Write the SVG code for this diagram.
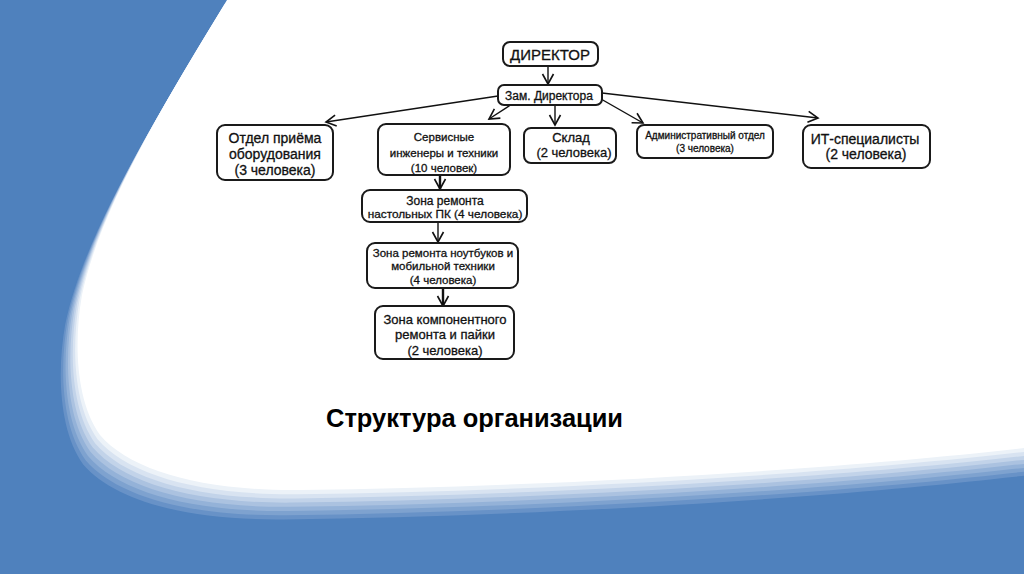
<svg xmlns="http://www.w3.org/2000/svg" width="1024" height="574" viewBox="0 0 1024 574">
<style>
.box{fill:#fff;stroke:#1a1a1a;stroke-width:2}
.t{font-family:"Liberation Sans",Arial,sans-serif;fill:#111;stroke:#111;stroke-width:0.3;text-anchor:middle}
.c{stroke:#111;stroke-width:1.4;fill:none;marker-end:url(#ah)}
.ck{stroke:#111;stroke-width:2.4;fill:none;marker-end:url(#ah)}
</style>
<defs>
<path id="wh" d="M227 0 L1100 0 L1100 441 L1024 448 C850 468 560 487 300 490 C200 491 130 470 100 435 C75 400 74 340 82 295 C100 210 160 110 227 0 Z"/>
<marker id="ah" markerUnits="userSpaceOnUse" markerWidth="14" markerHeight="14" refX="11" refY="6.5" orient="auto" viewBox="0 0 14 14">
<path d="M1 1 L11 6.5 L1 12" fill="none" stroke="#111" stroke-width="1.6"/>
</marker>
</defs>
<g id="background">
<rect width="1024" height="574" fill="#4f81bd"/>
<use href="#wh" transform="translate(-16.8 29.4)" fill="#6892c7"/>
<use href="#wh" transform="translate(-14.4 25.2)" fill="#7ea2cf"/>
<use href="#wh" transform="translate(-12 21)" fill="#94b2d8"/>
<use href="#wh" transform="translate(-9.6 16.8)" fill="#abc2e0"/>
<use href="#wh" transform="translate(-7.2 12.6)" fill="#c2d3e9"/>
<use href="#wh" transform="translate(-4.8 8.4)" fill="#d8e3f1"/>
<use href="#wh" transform="translate(-2.4 4.2)" fill="#ecf2f8"/>
<use href="#wh" fill="#ffffff"/>
</g>
<g id="connectors">
<line class="c" x1="548" y1="66" x2="548" y2="84"/>
<line class="c" x1="498" y1="96" x2="326" y2="122"/>
<line class="c" x1="512" y1="104" x2="489" y2="119"/>
<line class="c" x1="555" y1="105" x2="555" y2="125"/>
<line class="c" x1="601" y1="99" x2="643" y2="123"/>
<line class="c" x1="602" y1="93" x2="818" y2="118"/>
<line class="ck" x1="440" y1="175" x2="440" y2="189"/>
<line class="c" x1="438" y1="222" x2="438" y2="242"/>
<line class="ck" x1="443" y1="288" x2="443" y2="306"/>
</g>
<g id="director">
<rect class="box" x="503" y="42" width="95" height="24" rx="7"/>
<text class="t" x="550" y="59.5" font-size="15">ДИРЕКТОР</text>
</g>
<g id="deputy">
<rect class="box" x="498" y="85" width="104" height="20" rx="6"/>
<text class="t" x="549" y="99.5" font-size="12">Зам. Директора</text>
</g>
<g id="reception">
<rect class="box" x="217" y="125" width="116" height="55" rx="8"/>
<text class="t" x="275" y="143" font-size="14">Отдел приёма</text>
<text class="t" x="275" y="158.5" font-size="14">оборудования</text>
<text class="t" x="275" y="175" font-size="14">(3 человека)</text>
</g>
<g id="service">
<rect class="box" x="378" y="124" width="132" height="51" rx="8"/>
<text class="t" x="444" y="141" font-size="11.5">Сервисные</text>
<text class="t" x="444" y="157" font-size="11.5">инженеры и техники</text>
<text class="t" x="444" y="172" font-size="11.5">(10 человек)</text>
</g>
<g id="warehouse">
<rect class="box" x="524" y="128" width="92" height="35" rx="7"/>
<text class="t" x="571" y="141.5" font-size="13">Склад</text>
<text class="t" x="574" y="157" font-size="13">(2 человека)</text>
</g>
<g id="admin">
<rect class="box" x="637" y="125" width="136" height="33" rx="7"/>
<text class="t" x="705" y="138.5" font-size="10">Административный отдел</text>
<text class="t" x="705" y="151.5" font-size="10">(3 человека)</text>
</g>
<g id="it">
<rect class="box" x="803" y="125" width="127" height="43" rx="8"/>
<text class="t" x="865" y="144" font-size="14">ИТ-специалисты</text>
<text class="t" x="866" y="159" font-size="14">(2 человека)</text>
</g>
<g id="desktop">
<rect class="box" x="362" y="190" width="165" height="32" rx="8"/>
<text class="t" x="445" y="204.5" font-size="12">Зона ремонта</text>
<text class="t" x="445" y="218" font-size="11.8">настольных ПК (4 человека)</text>
</g>
<g id="laptop">
<rect class="box" x="367" y="243" width="151" height="45" rx="8"/>
<text class="t" x="443" y="256.5" font-size="11.5">Зона ремонта ноутбуков и</text>
<text class="t" x="443" y="269.5" font-size="11.5">мобильной техники</text>
<text class="t" x="443" y="283.5" font-size="11.5">(4 человека)</text>
</g>
<g id="component">
<rect class="box" x="375" y="306" width="139" height="53" rx="8"/>
<text class="t" x="445" y="323.5" font-size="13">Зона компонентного</text>
<text class="t" x="445" y="338.5" font-size="13">ремонта и пайки</text>
<text class="t" x="445" y="354.5" font-size="13">(2 человека)</text>
</g>
<text x="326" y="427" font-family="'Liberation Sans',Arial,sans-serif" font-size="25" font-weight="bold" fill="#000" textLength="297" lengthAdjust="spacingAndGlyphs">Структура организации</text>
</svg>
